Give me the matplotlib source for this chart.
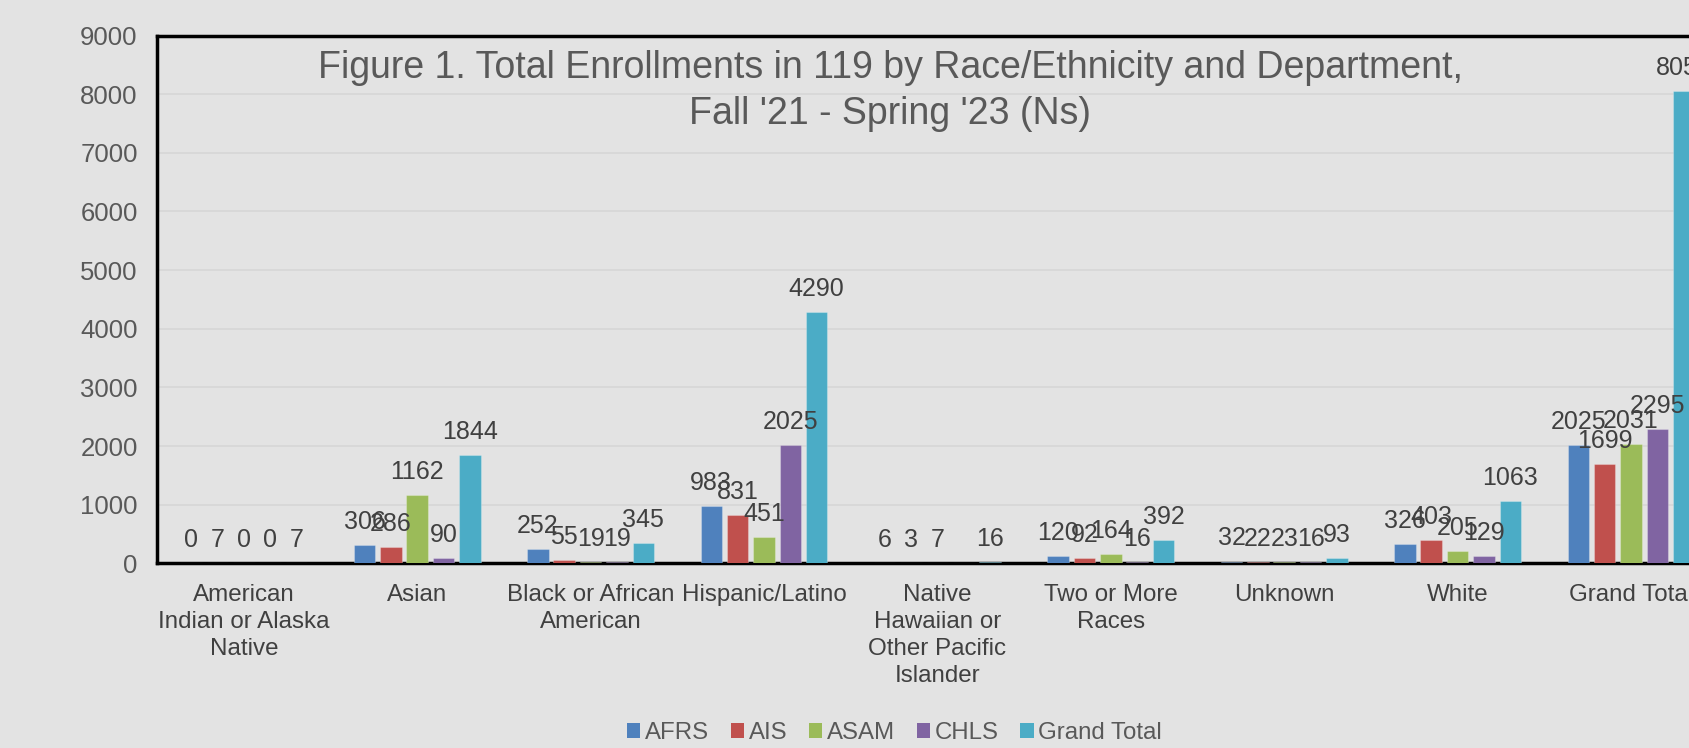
import numpy as np
import matplotlib
matplotlib.use("Agg")
import matplotlib.pyplot as plt
from matplotlib.patches import Patch

plt.rcParams['font.family'] = ['Liberation Sans', 'DejaVu Sans']

categories = ["American\nIndian or Alaska\nNative", "Asian", "Black or African\nAmerican",
              "Hispanic/Latino", "Native\nHawaiian or\nOther Pacific\nIslander",
              "Two or More\nRaces", "Unknown", "White", "Grand Total"]
series = ["AFRS", "AIS", "ASAM", "CHLS", "Grand Total"]
afrs = [0, 306, 252, 983, 6, 120, 32, 326, 2025]
ais = [7, 286, 55, 831, 3, 92, 22, 403, 1699]
asam = [0, 1162, 19, 451, 7, 164, 23, 205, 2031]
chls = [0, 90, 19, 2025, np.nan, 16, 16, 129, 2295]
grand = [7, 1844, 345, 4290, 16, 392, 93, 1063, 8050]
colors = ["#4F81BD", "#C0504D", "#9BBB59", "#8064A2", "#4BACC6"]

bg = "#E3E3E3"
fig = plt.figure(figsize=(16.89, 7.48), dpi=100, facecolor=bg)
ax = fig.add_axes([0.093, 0.2468, 0.924, 0.7057], facecolor=bg)

x = np.arange(len(categories))
pitch = 0.152
width = 0.124
for i, (vals, c) in enumerate(zip([afrs, ais, asam, chls, grand], colors)):
    pos = x + (i - 2) * pitch
    ax.bar(pos, np.nan_to_num(vals), width, color=c, edgecolor="#FFFFFF40", linewidth=0.8, zorder=3)
    for p, v in zip(pos, vals):
        if np.isnan(v):
            continue
        ax.annotate(f"{int(v)}", (p, v), xytext=(0, 8), textcoords="offset points",
                    ha="center", va="bottom", fontsize=18, color="#404040", zorder=4)

ax.set_xlim(-0.5, len(categories) - 0.5)
ax.set_ylim(0, 9000)
ax.set_yticks(np.arange(0, 9001, 1000))
ax.set_xticks(x)
ax.set_xticklabels(categories, fontsize=17.4, color="#404040", linespacing=1.31, va="top")
ax.tick_params(axis="x", length=0, pad=14.5)
ax.tick_params(axis="y", length=0, pad=14, labelsize=18.5, labelcolor="#595959")
ax.yaxis.grid(True, color="#D6D6D6", linewidth=1.2, zorder=0)
ax.set_axisbelow(True)
for s in ["left", "top", "bottom"]:
    ax.spines[s].set_color("black")
    ax.spines[s].set_linewidth(2.5)
ax.spines["right"].set_visible(False)

fig.text(0.527, 0.878,
         "Figure 1. Total Enrollments in 119 by Race/Ethnicity and Department,\nFall '21 - Spring '23 (Ns)",
         ha="center", va="center", fontsize=27, color="#595959", linespacing=1.35)

handles = [Patch(facecolor=c, edgecolor="none") for c in colors]
fig.legend(handles, series, loc="center", bbox_to_anchor=(0.5296, 0.02), ncol=5,
           frameon=False, fontsize=17.3, handlelength=0.55, handleheight=0.55,
           handletextpad=0.2, columnspacing=0.9, borderpad=0, labelcolor="#595959")

fig.savefig("out.png", dpi=100, facecolor=bg)
